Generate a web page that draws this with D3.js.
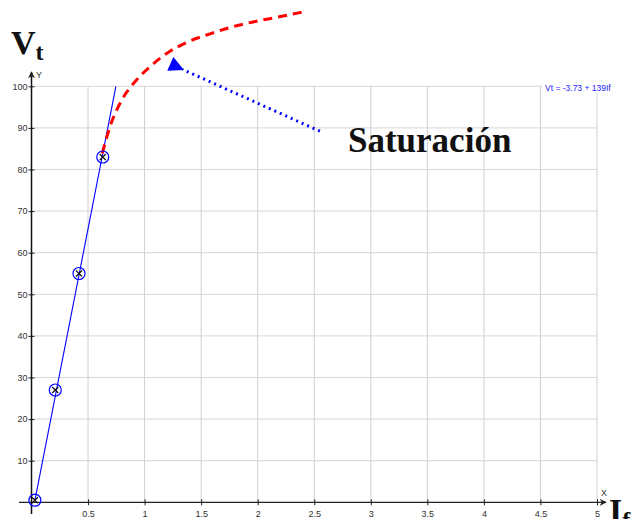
<!DOCTYPE html>
<html>
<head>
<meta charset="utf-8">
<script src="https://cdn.jsdelivr.net/npm/d3@7"></script>
<style>
  body { margin: 0; background: #fff; }
  svg { display: block; font-family: "Liberation Sans", Arial, sans-serif; }
</style>
</head>
<body>
<div id="chart"></div>
<script>
// measured points (If, Vt)
const ifValues = [0.03, 0.21, 0.42, 0.63];
const vtValues = [0.5, 27, 55, 83];

// fitted line Vt = -3.73 + 139 If
const fitIntercept = -3.73;
const fitSlope = 139;
const fitLabel = "Vt = -3.73 + 139If";

// saturation curve (hand drawn, red dashed)
const satIf = [0.626, 0.694, 0.798, 0.915, 1.048, 1.195, 1.386, 1.578, 1.82, 2.0, 2.17, 2.39];
const satVt = [83.9, 90.3, 96.7, 101.1, 104.7, 107.9, 110.7, 112.6, 114.6, 115.7, 116.6, 117.8];

// arrow from the label to the curve
const arrowFrom = [2.55, 89.2];
const arrowTo = [1.23, 105.5];

const xTicks = [0.5, 1, 1.5, 2, 2.5, 3, 3.5, 4, 4.5, 5];
const yTicks = [10, 20, 30, 40, 50, 60, 70, 80, 90, 100];

const width = 633;
const height = 519;

const svg = d3.select("#chart")
              .append("svg")
              .attr("width", width)
              .attr("height", height);

// Scaling
const xScale = d3.scaleLinear().domain([0, 5]).range([31.5, 597]);
const yScale = d3.scaleLinear().domain([0, 100]).range([502.3, 86.3]);

const defs = svg.append("defs");
defs.append("marker")
    .attr("id", "axisArrow")
    .attr("viewBox", "0 0 10 10")
    .attr("refX", 9).attr("refY", 5)
    .attr("markerWidth", 7).attr("markerHeight", 7)
    .attr("markerUnits", "userSpaceOnUse")
    .attr("orient", "auto")
    .append("path")
    .attr("d", "M0,0 L10,5 L0,10 L3,5 Z")
    .attr("fill", "#222");
defs.append("marker")
    .attr("id", "blueArrow")
    .attr("viewBox", "0 0 10 10")
    .attr("refX", 1).attr("refY", 5)
    .attr("markerWidth", 17).attr("markerHeight", 15)
    .attr("markerUnits", "userSpaceOnUse")
    .attr("orient", "auto")
    .append("path")
    .attr("d", "M0,5 L10,0 L10,10 Z")
    .attr("fill", "#0000ff");

// Grid
const grid = svg.append("g").attr("class", "grid");
grid.selectAll(".vgrid")
    .data(xTicks)
    .enter()
    .append("line")
    .attr("x1", d => xScale(d)).attr("x2", d => xScale(d))
    .attr("y1", yScale(0)).attr("y2", yScale(100))
    .attr("stroke", "#cfcfcf");
grid.selectAll(".hgrid")
    .data(yTicks)
    .enter()
    .append("line")
    .attr("x1", xScale(0)).attr("x2", xScale(5))
    .attr("y1", d => yScale(d)).attr("y2", d => yScale(d))
    .attr("stroke", "#d6d6d6");

// Axes
const xAxis = svg.append("g")
   .attr("transform", `translate(0, ${yScale(0)})`)
   .call(d3.axisBottom(xScale).tickValues(xTicks).tickSize(6).tickFormat(d3.format("")));
xAxis.select(".domain").remove();
xAxis.selectAll(".tick line").attr("y1", -3).attr("y2", 3).attr("stroke", "#222");
xAxis.selectAll(".tick text").attr("y", 8).attr("dy", "0.71em")
     .attr("font-size", 9).attr("fill", "#333").attr("font-family", "Liberation Sans, Arial, sans-serif");

const yAxis = svg.append("g")
   .attr("transform", `translate(${xScale(0)}, 0)`)
   .call(d3.axisLeft(yScale).tickValues(yTicks).tickSize(6));
yAxis.select(".domain").remove();
yAxis.selectAll(".tick line").attr("x1", -3).attr("x2", 3).attr("stroke", "#222");
yAxis.selectAll(".tick text").attr("x", -4)
     .attr("font-size", 9).attr("fill", "#333").attr("font-family", "Liberation Sans, Arial, sans-serif");

svg.append("line")
   .attr("x1", 19).attr("x2", 606)
   .attr("y1", yScale(0)).attr("y2", yScale(0))
   .attr("stroke", "#222").attr("stroke-width", 1.2)
   .attr("marker-end", "url(#axisArrow)");
svg.append("line")
   .attr("x1", xScale(0)).attr("x2", xScale(0))
   .attr("y1", 514).attr("y2", 72)
   .attr("stroke", "#111").attr("stroke-width", 1.5)
   .attr("marker-end", "url(#axisArrow)");
svg.append("text").attr("x", 36).attr("y", 78).attr("font-size", 9).attr("fill", "#333").text("Y");
svg.append("text").attr("x", 601).attr("y", 496).attr("font-size", 9).attr("fill", "#333").text("X");

// Fitted line, from the first point up to Vt = 100
const fitX0 = ifValues[0];
const fitX1 = (100 - fitIntercept) / fitSlope;
svg.append("line")
   .attr("x1", xScale(fitX0)).attr("y1", yScale(fitIntercept + fitSlope * fitX0))
   .attr("x2", xScale(fitX1)).attr("y2", yScale(100))
   .attr("stroke", "#0000ff").attr("stroke-width", 1.1);

// Saturation curve
const satData = satIf.map((d, i) => [d, satVt[i]]);
svg.append("path")
   .datum(satData)
   .attr("d", d3.line().x(d => xScale(d[0])).y(d => yScale(d[1])).curve(d3.curveMonotoneX))
   .attr("fill", "none")
   .attr("stroke", "#ff0000")
   .attr("stroke-width", 3)
   .attr("stroke-dasharray", "9,6");

// Points
const pts = svg.selectAll(".pt")
   .data(ifValues.map((d, i) => [d, vtValues[i]]))
   .enter()
   .append("g")
   .attr("transform", d => `translate(${xScale(d[0])}, ${yScale(d[1])})`);
pts.append("circle").attr("r", 6).attr("fill", "none").attr("stroke", "#0000ff").attr("stroke-width", 1.2);
pts.append("path").attr("d", "M-3,-3 L3,3 M3,-3 L-3,3").attr("stroke", "#111").attr("stroke-width", 1.2);

// Equation label
svg.append("rect").attr("x", 542).attr("y", 82).attr("width", 72).attr("height", 11).attr("fill", "#fff");
svg.append("text")
   .attr("x", 545).attr("y", 91)
   .attr("font-size", 8.5)
   .attr("fill", "#2222ff")
   .text(fitLabel);

// Arrow to the curve
svg.append("line")
   .attr("x1", xScale(arrowFrom[0])).attr("y1", yScale(arrowFrom[1]))
   .attr("x2", xScale(arrowTo[0]) + 12).attr("y2", yScale(arrowTo[1]) + 6)
   .attr("stroke", "#0000ff").attr("stroke-width", 3)
   .attr("stroke-dasharray", "2,4")
   .attr("marker-end", "url(#blueArrow)");

// Labels
const serif = "Liberation Serif, Times New Roman, serif";
svg.append("text").attr("x", 348).attr("y", 152)
   .attr("font-family", serif).attr("font-weight", "bold").attr("font-size", 35)
   .attr("fill", "#111").text("Saturación");

const vt = svg.append("text").attr("x", 11).attr("y", 54)
   .attr("font-family", serif).attr("font-weight", "bold").attr("font-size", 34).attr("fill", "#111");
vt.append("tspan").text("V");
vt.append("tspan").attr("font-size", 24).attr("dy", 6).text("t");

const itxt = svg.append("text").attr("x", 609).attr("y", 522)
   .attr("font-family", serif).attr("font-weight", "bold").attr("font-size", 34).attr("fill", "#111");
itxt.append("tspan").text("I");
itxt.append("tspan").attr("font-size", 24).attr("dy", 6).text("f");
</script>
</body>
</html>
